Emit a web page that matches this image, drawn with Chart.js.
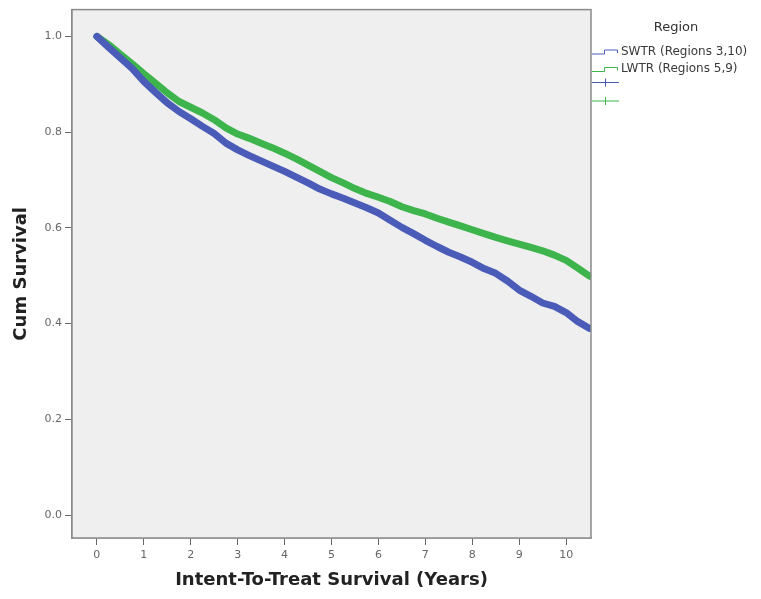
<!DOCTYPE html>
<html>
<head>
<meta charset="utf-8">
<script src="https://cdn.jsdelivr.net/npm/chart.js@4.4.1/dist/chart.umd.min.js"></script>
<style>
  html, body { margin: 0; padding: 0; background: #ffffff; }
  #wrap { width: 761px; height: 599px; }
</style>
</head>
<body>
<div id="wrap"><canvas id="c" width="761" height="599"></canvas></div>
<script>
// ---- data ----
const years = [0, 0.25, 0.5, 0.75, 1, 1.25, 1.5, 1.75, 2, 2.25, 2.5, 2.75, 3, 3.25, 3.5, 3.75, 4, 4.25, 4.5, 4.75, 5, 5.25, 5.5, 5.75, 6, 6.25, 6.5, 6.75, 7, 7.25, 7.5, 7.75, 8, 8.25, 8.5, 8.75, 9, 9.25, 9.5, 9.75, 10, 10.25, 10.5];
const swtrSurvival = [1.000, 0.977, 0.955, 0.933, 0.906, 0.883, 0.861, 0.843, 0.828, 0.812, 0.797, 0.777, 0.763, 0.751, 0.740, 0.729, 0.718, 0.706, 0.694, 0.681, 0.671, 0.662, 0.652, 0.642, 0.631, 0.616, 0.601, 0.588, 0.574, 0.561, 0.549, 0.539, 0.528, 0.515, 0.505, 0.489, 0.470, 0.457, 0.443, 0.436, 0.423, 0.404, 0.390];
const lwtrSurvival = [1.000, 0.983, 0.963, 0.943, 0.922, 0.902, 0.882, 0.864, 0.852, 0.840, 0.826, 0.809, 0.796, 0.787, 0.777, 0.767, 0.756, 0.744, 0.731, 0.718, 0.705, 0.694, 0.682, 0.672, 0.664, 0.655, 0.644, 0.636, 0.629, 0.620, 0.612, 0.604, 0.596, 0.588, 0.580, 0.573, 0.566, 0.559, 0.552, 0.543, 0.532, 0.516, 0.499];
const seriesNames = ["SWTR (Regions 3,10)", "LWTR (Regions 5,9)"];
const legendTitle = "Region";
const xTicks = [0, 1, 2, 3, 4, 5, 6, 7, 8, 9, 10];
const yTicks = [0.0, 0.2, 0.4, 0.6, 0.8, 1.0];
const xAxisTitle = "Intent-To-Treat Survival (Years)";
const yAxisTitle = "Cum Survival";

const BLUE = '#4a5cb8';
const GREEN = '#3db54c';

function pts(xs, ys) { return xs.map((x, i) => ({ x: x, y: ys[i] })); }

const bgPlugin = {
  id: 'bgPlugin',
  beforeDatasetsDraw(chart) {
    const { ctx, chartArea: a } = chart;
    ctx.save();
    ctx.fillStyle = '#efefef';
    ctx.fillRect(a.left, a.top, a.right - a.left, a.bottom - a.top);
    ctx.restore();
  },
  afterDatasetsDraw(chart) {
    const { ctx, chartArea: a } = chart;
    ctx.save();
    ctx.strokeStyle = '#8a8a8a';
    ctx.lineWidth = 1.5;
    ctx.strokeRect(a.left, a.top, a.right - a.left, a.bottom - a.top);
    ctx.restore();
  }
};

const legendPlugin = {
  id: 'kmLegend',
  afterDraw(chart) {
    const ctx = chart.ctx;
    const colors = [BLUE, GREEN];
    ctx.save();
    ctx.fillStyle = '#333333';
    ctx.font = '13px "DejaVu Sans", sans-serif';
    ctx.textAlign = 'center';
    ctx.textBaseline = 'middle';
    ctx.fillText(legendTitle, 676, 28);
    ctx.textAlign = 'left';
    ctx.font = '12px "DejaVu Sans", sans-serif';
    ctx.lineWidth = 1;
    for (let i = 0; i < 2; i++) {
      const yc = 51.5 + i * 17.5;
      ctx.strokeStyle = colors[i];
      ctx.beginPath();
      ctx.moveTo(592, yc + 2.5);
      ctx.lineTo(604.5, yc + 2.5);
      ctx.lineTo(604.5, yc - 1.5);
      ctx.lineTo(617.5, yc - 1.5);
      ctx.lineTo(617.5, yc + 1.5);
      ctx.stroke();
      ctx.fillStyle = '#3a3a3a';
      ctx.fillText(seriesNames[i], 621, yc);
    }
    for (let i = 0; i < 2; i++) {
      const yc = 82.5 + i * 18.5;
      ctx.strokeStyle = colors[i];
      ctx.beginPath();
      ctx.moveTo(592, yc);
      ctx.lineTo(619, yc);
      ctx.moveTo(605.5, yc - 4);
      ctx.lineTo(605.5, yc + 4);
      ctx.stroke();
    }
    ctx.restore();
  }
};

new Chart(document.getElementById('c'), {
  type: 'line',
  data: {
    datasets: [
      { label: seriesNames[0], data: pts(years, swtrSurvival), borderColor: BLUE, backgroundColor: BLUE,
        borderWidth: 7, pointRadius: 0, tension: 0, borderCapStyle: 'round', borderJoinStyle: 'round' },
      { label: seriesNames[1], data: pts(years, lwtrSurvival), borderColor: GREEN, backgroundColor: GREEN,
        borderWidth: 7, pointRadius: 0, tension: 0, borderCapStyle: 'round', borderJoinStyle: 'round' }
    ]
  },
  options: {
    responsive: false,
    animation: false,
    devicePixelRatio: 1,
    layout: { padding: { left: 0, right: 170, top: 9, bottom: 0 } },
    plugins: { legend: { display: false }, tooltip: { enabled: false } },
    scales: {
      x: {
        type: 'linear', min: -0.53, max: 10.53,
        afterBuildTicks(s) { s.ticks = xTicks.map(v => ({ value: v })); },
        afterFit(s) { s.height = 61; },
        grid: { drawOnChartArea: false, drawTicks: true, tickLength: 7, color: '#666666', lineWidth: 1 },
        border: { display: true, color: '#8a8a8a', width: 1.5 },
        ticks: { color: '#666666', font: { family: '"DejaVu Sans", sans-serif', size: 11 }, padding: 4,
                 maxRotation: 0, autoSkip: false, callback: v => String(v) },
        title: { display: true, text: xAxisTitle, color: '#222222',
                 font: { family: '"DejaVu Sans", sans-serif', size: 18, weight: 'bold' }, padding: { top: 0, bottom: 8 } }
      },
      y: {
        type: 'linear', min: -0.048, max: 1.056,
        afterBuildTicks(s) { s.ticks = yTicks.map(v => ({ value: v })); },
        afterFit(s) { s.width = 72; },
        grid: { drawOnChartArea: false, drawTicks: true, tickLength: 7, color: '#666666', lineWidth: 1 },
        border: { display: true, color: '#8a8a8a', width: 1.5 },
        ticks: { color: '#666666', font: { family: '"DejaVu Sans", sans-serif', size: 11 }, padding: 3,
                 autoSkip: false, callback: v => Number(v).toFixed(1) },
        title: { display: true, text: yAxisTitle, color: '#222222',
                 font: { family: '"DejaVu Sans", sans-serif', size: 18, weight: 'bold' }, padding: { top: 11, bottom: 0 } }
      }
    }
  },
  plugins: [bgPlugin, legendPlugin]
});
</script>
</body>
</html>
